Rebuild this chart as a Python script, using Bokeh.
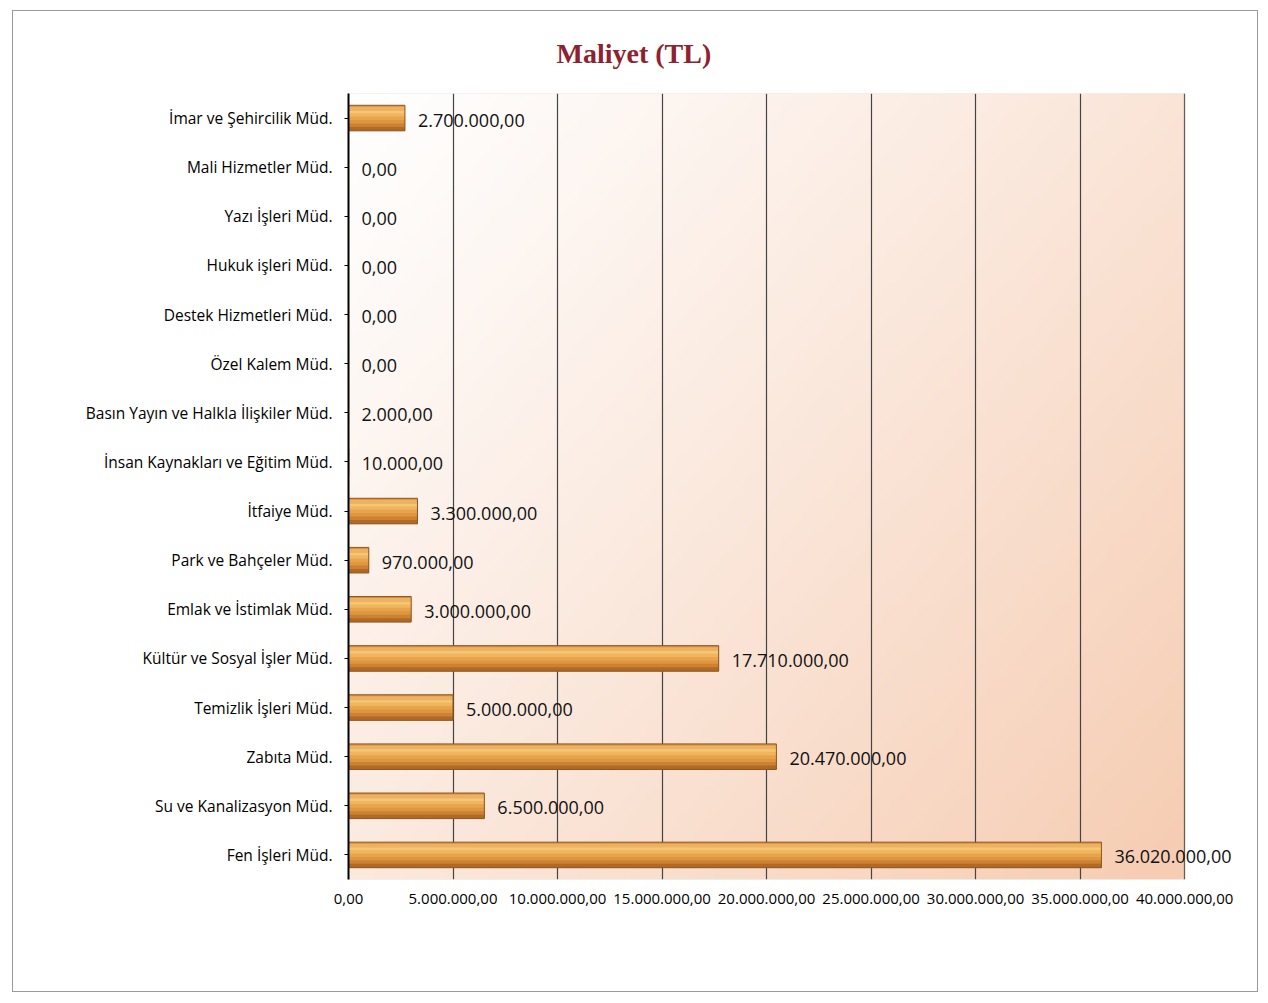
import numpy as np
from bokeh.plotting import figure
from bokeh.models import ColumnDataSource, FactorRange, Range1d, FixedTicker, LabelSet, BoxAnnotation
from bokeh.core.properties import value
from bokeh.transform import dodge
from bokeh.layouts import column
from bokeh.embed import file_html
from bokeh.resources import INLINE

# ---- data (top to bottom as in the chart) ----
categories = [
    "İmar ve Şehircilik Müd.",
    "Mali Hizmetler Müd.",
    "Yazı İşleri Müd.",
    "Hukuk işleri Müd.",
    "Destek Hizmetleri Müd.",
    "Özel Kalem Müd.",
    "Basın Yayın ve Halkla İlişkiler Müd.",
    "İnsan Kaynakları ve Eğitim Müd.",
    "İtfaiye Müd.",
    "Park ve Bahçeler Müd.",
    "Emlak ve İstimlak Müd.",
    "Kültür ve Sosyal İşler Müd.",
    "Temizlik İşleri Müd.",
    "Zabıta Müd.",
    "Su ve Kanalizasyon Müd.",
    "Fen İşleri Müd.",
]
values = [2700000, 0, 0, 0, 0, 0, 2000, 10000, 3300000, 970000, 3000000,
          17710000, 5000000, 20470000, 6500000, 36020000]
x_ticks = [0, 5000000, 10000000, 15000000, 20000000, 25000000, 30000000, 35000000, 40000000]
title_text = "Maliyet (TL)"


def tr_fmt(v):
    s = f"{v:,.2f}"
    return s.replace(",", "X").replace(".", ",").replace("X", ".")


labels = [tr_fmt(v) for v in values]
source = ColumnDataSource(dict(cat=categories, val=values, lab=labels))

axis_max = x_ticks[-1]
view_max = axis_max * 1.068  # extra room so the last value label is not clipped

factors = list(reversed(categories))
p = figure(
    width=1244, height=980,
    y_range=FactorRange(*factors, range_padding=0),
    x_range=Range1d(0, view_max),
    output_backend="svg", toolbar_location=None,
    min_border_left=335, min_border_right=16, min_border_top=82, min_border_bottom=112,
)

# gradient background of plotting area
H, W = 120, 160
u = np.linspace(0, 1, W)[None, :]
vv = 1 - np.linspace(0, 1, H)[:, None]
t = np.clip((0.55 * u + 0.45 * vv), 0, 1) ** 1.1
c0 = np.array([255, 255, 255])
c1 = np.array([246, 204, 178])
img = np.empty((H, W), dtype=np.uint32)
view = img.view(dtype=np.uint8).reshape((H, W, 4))
for k in range(3):
    view[:, :, k] = (c0[k] * (1 - t) + c1[k] * t).astype(np.uint8)
view[:, :, 3] = 255
bg = p.image_rgba(image=[img], x=0, y=0, dw=axis_max, dh=len(categories))
bg.level = "image"

# light border of the plotting area (ends at the last tick)
p.add_layout(BoxAnnotation(left=0, right=axis_max, fill_color=None,
                           line_color="#C9A68A", line_width=1, level="underlay"))

# bars with a smooth cylinder-like shading (stacked thin bands)
bar_h = 0.52
p.hbar(y="cat", right="val", left=0, height=bar_h, source=source,
       fill_color="#DC8F3A", line_color=None)
bands = [  # (offset, height, colour)
    (-0.21, 0.10, "#B06A25"),
    (-0.14, 0.08, "#CC8232"),
    (-0.07, 0.08, "#DE963F"),
    (0.00, 0.08, "#E8A44C"),
    (0.07, 0.08, "#F0B65E"),
    (0.13, 0.06, "#F5C774"),
    (0.19, 0.08, "#EBB263"),
]
for off, h, col in bands:
    p.hbar(y=dodge("cat", off, range=p.y_range), right="val", left=0, height=h, source=source,
           fill_color=col, line_color=None)
p.hbar(y="cat", right="val", left=0, height=bar_h, source=source,
       fill_color=None, line_color="#8E5520", line_width=1)

lbl = LabelSet(x="val", y="cat", text="lab", source=source, x_offset=13, y_offset=-2,
               text_font=value("Open Sans"), text_font_size=value("18px"), text_color="#111111",
               text_baseline="middle", text_align="left")
p.add_layout(lbl)

# title
p.title.text = title_text
p.title.text_font = "Liberation Serif"
p.title.text_font_size = "28px"
p.title.text_font_style = "bold"
p.title.text_color = "#8E2231"
p.title.align = "left"
p.title.offset = 208
p.title.standoff = 49

# axes
p.xaxis.ticker = FixedTicker(ticks=x_ticks)
p.xaxis.major_label_overrides = {tk: tr_fmt(tk) for tk in x_ticks}
p.xaxis.axis_line_color = None
p.xaxis.major_tick_line_color = None
p.xaxis.minor_tick_line_color = None
p.xaxis.major_label_text_font = "Open Sans"
p.xaxis.major_label_text_font_size = "15px"
p.xaxis.major_label_text_color = "#000000"
p.xaxis.major_label_standoff = 8

p.yaxis.axis_line_color = "#000000"
p.yaxis.axis_line_width = 2
p.yaxis.major_tick_in = 0
p.yaxis.major_tick_out = 4
p.yaxis.major_tick_line_color = "#000000"
p.yaxis.major_label_text_font = "Open Sans"
p.yaxis.major_label_text_font_size = "15.5px"
p.yaxis.major_label_text_color = "#000000"
p.yaxis.major_label_standoff = 12

p.xgrid.grid_line_color = "#444444"
p.xgrid.grid_line_width = 1.2
p.ygrid.grid_line_color = None

p.outline_line_color = None
p.background_fill_color = "white"
p.border_fill_color = "white"

layout = column(p, margin=(10, 0, 0, 12), styles={"border": "1px solid #9a9a9a"})

open("out.html", "w").write(file_html(layout, INLINE))
